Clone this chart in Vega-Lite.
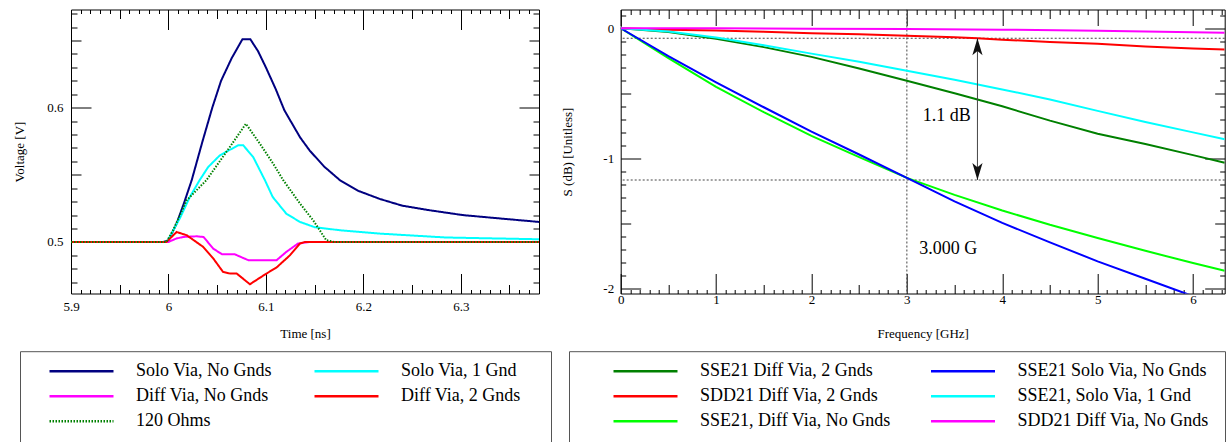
{
  "$schema": "https://vega.github.io/schema/vega-lite/v6.json",
  "background": "white",
  "padding": {"left": 12, "top": 8.5, "right": 0, "bottom": 0},
  "bounds": "flush",
  "spacing": 81.7,
  "resolve": {"scale": {"color": "independent", "strokeDash": "independent"}},
  "config": {
    "font": "Liberation Serif",
    "view": {"stroke": "#000", "strokeWidth": 1},
    "axis": {"domain": false, "grid": false, "labelFont": "Liberation Serif", "labelFontSize": 13, "labelColor": "#000", "titleFont": "Liberation Serif", "titleFontSize": 13, "titleFontWeight": "normal", "titleColor": "#000", "tickColor": "#000", "tickWidth": 1},
    "legend": {"labelFont": "Liberation Serif", "titleFont": "Liberation Serif"}
  },
  "hconcat": [
    {
      "width": 468,
      "height": 284,
      "resolve": {"axis": {"x": "independent", "y": "independent"}},
      "layer": [
        {
          "data": {"values": [
            {"trace": "Solo Via, No Gnds", "t": 5.9, "v": 0.5},
            {"trace": "Solo Via, No Gnds", "t": 5.995, "v": 0.5},
            {"trace": "Solo Via, No Gnds", "t": 6.0, "v": 0.501},
            {"trace": "Solo Via, No Gnds", "t": 6.0084, "v": 0.5137},
            {"trace": "Solo Via, No Gnds", "t": 6.016, "v": 0.529},
            {"trace": "Solo Via, No Gnds", "t": 6.0238, "v": 0.5458},
            {"trace": "Solo Via, No Gnds", "t": 6.035, "v": 0.575},
            {"trace": "Solo Via, No Gnds", "t": 6.045, "v": 0.6},
            {"trace": "Solo Via, No Gnds", "t": 6.054, "v": 0.62},
            {"trace": "Solo Via, No Gnds", "t": 6.065, "v": 0.637},
            {"trace": "Solo Via, No Gnds", "t": 6.076, "v": 0.651},
            {"trace": "Solo Via, No Gnds", "t": 6.084, "v": 0.651},
            {"trace": "Solo Via, No Gnds", "t": 6.092, "v": 0.642},
            {"trace": "Solo Via, No Gnds", "t": 6.1, "v": 0.63},
            {"trace": "Solo Via, No Gnds", "t": 6.11, "v": 0.614},
            {"trace": "Solo Via, No Gnds", "t": 6.119, "v": 0.598},
            {"trace": "Solo Via, No Gnds", "t": 6.127, "v": 0.588},
            {"trace": "Solo Via, No Gnds", "t": 6.135, "v": 0.578},
            {"trace": "Solo Via, No Gnds", "t": 6.145, "v": 0.568},
            {"trace": "Solo Via, No Gnds", "t": 6.16, "v": 0.556},
            {"trace": "Solo Via, No Gnds", "t": 6.176, "v": 0.546},
            {"trace": "Solo Via, No Gnds", "t": 6.195, "v": 0.538},
            {"trace": "Solo Via, No Gnds", "t": 6.217, "v": 0.532},
            {"trace": "Solo Via, No Gnds", "t": 6.24, "v": 0.527},
            {"trace": "Solo Via, No Gnds", "t": 6.268, "v": 0.5236},
            {"trace": "Solo Via, No Gnds", "t": 6.302, "v": 0.52},
            {"trace": "Solo Via, No Gnds", "t": 6.34, "v": 0.5175},
            {"trace": "Solo Via, No Gnds", "t": 6.3803, "v": 0.5149},
            {"trace": "Solo Via, 1 Gnd", "t": 5.9, "v": 0.5},
            {"trace": "Solo Via, 1 Gnd", "t": 5.998, "v": 0.5},
            {"trace": "Solo Via, 1 Gnd", "t": 6.0015, "v": 0.504},
            {"trace": "Solo Via, 1 Gnd", "t": 6.012, "v": 0.518},
            {"trace": "Solo Via, 1 Gnd", "t": 6.022, "v": 0.5335},
            {"trace": "Solo Via, 1 Gnd", "t": 6.032, "v": 0.546},
            {"trace": "Solo Via, 1 Gnd", "t": 6.0408, "v": 0.5558},
            {"trace": "Solo Via, 1 Gnd", "t": 6.0528, "v": 0.5645},
            {"trace": "Solo Via, 1 Gnd", "t": 6.0716, "v": 0.572},
            {"trace": "Solo Via, 1 Gnd", "t": 6.0767, "v": 0.572},
            {"trace": "Solo Via, 1 Gnd", "t": 6.087, "v": 0.5632},
            {"trace": "Solo Via, 1 Gnd", "t": 6.099, "v": 0.546},
            {"trace": "Solo Via, 1 Gnd", "t": 6.107, "v": 0.5335},
            {"trace": "Solo Via, 1 Gnd", "t": 6.121, "v": 0.521},
            {"trace": "Solo Via, 1 Gnd", "t": 6.135, "v": 0.5149},
            {"trace": "Solo Via, 1 Gnd", "t": 6.15, "v": 0.511},
            {"trace": "Solo Via, 1 Gnd", "t": 6.176, "v": 0.5087},
            {"trace": "Solo Via, 1 Gnd", "t": 6.217, "v": 0.5062},
            {"trace": "Solo Via, 1 Gnd", "t": 6.285, "v": 0.5033},
            {"trace": "Solo Via, 1 Gnd", "t": 6.3803, "v": 0.502},
            {"trace": "Diff Via, No Gnds", "t": 5.9, "v": 0.5},
            {"trace": "Diff Via, No Gnds", "t": 6.0, "v": 0.5},
            {"trace": "Diff Via, No Gnds", "t": 6.008, "v": 0.5025},
            {"trace": "Diff Via, No Gnds", "t": 6.015, "v": 0.5037},
            {"trace": "Diff Via, No Gnds", "t": 6.029, "v": 0.5042},
            {"trace": "Diff Via, No Gnds", "t": 6.036, "v": 0.5037},
            {"trace": "Diff Via, No Gnds", "t": 6.046, "v": 0.495},
            {"trace": "Diff Via, No Gnds", "t": 6.055, "v": 0.4908},
            {"trace": "Diff Via, No Gnds", "t": 6.068, "v": 0.4908},
            {"trace": "Diff Via, No Gnds", "t": 6.082, "v": 0.4864},
            {"trace": "Diff Via, No Gnds", "t": 6.111, "v": 0.4864},
            {"trace": "Diff Via, No Gnds", "t": 6.121, "v": 0.4926},
            {"trace": "Diff Via, No Gnds", "t": 6.133, "v": 0.4988},
            {"trace": "Diff Via, No Gnds", "t": 6.145, "v": 0.5},
            {"trace": "Diff Via, No Gnds", "t": 6.3803, "v": 0.5},
            {"trace": "Diff Via, 2 Gnds", "t": 5.9, "v": 0.5},
            {"trace": "Diff Via, 2 Gnds", "t": 5.998, "v": 0.5},
            {"trace": "Diff Via, 2 Gnds", "t": 6.0084, "v": 0.5074},
            {"trace": "Diff Via, 2 Gnds", "t": 6.0187, "v": 0.505},
            {"trace": "Diff Via, 2 Gnds", "t": 6.0357, "v": 0.4963},
            {"trace": "Diff Via, 2 Gnds", "t": 6.046, "v": 0.4877},
            {"trace": "Diff Via, 2 Gnds", "t": 6.056, "v": 0.4777},
            {"trace": "Diff Via, 2 Gnds", "t": 6.063, "v": 0.4765},
            {"trace": "Diff Via, 2 Gnds", "t": 6.07, "v": 0.4765},
            {"trace": "Diff Via, 2 Gnds", "t": 6.0836, "v": 0.4685},
            {"trace": "Diff Via, 2 Gnds", "t": 6.1007, "v": 0.4765},
            {"trace": "Diff Via, 2 Gnds", "t": 6.111, "v": 0.481},
            {"trace": "Diff Via, 2 Gnds", "t": 6.1246, "v": 0.49},
            {"trace": "Diff Via, 2 Gnds", "t": 6.1349, "v": 0.4988},
            {"trace": "Diff Via, 2 Gnds", "t": 6.14, "v": 0.5},
            {"trace": "Diff Via, 2 Gnds", "t": 6.3803, "v": 0.5},
            {"trace": "120 Ohms", "t": 5.9, "v": 0.5},
            {"trace": "120 Ohms", "t": 5.998, "v": 0.5},
            {"trace": "120 Ohms", "t": 6.005, "v": 0.509},
            {"trace": "120 Ohms", "t": 6.0187, "v": 0.531},
            {"trace": "120 Ohms", "t": 6.039, "v": 0.546},
            {"trace": "120 Ohms", "t": 6.063, "v": 0.5707},
            {"trace": "120 Ohms", "t": 6.0795, "v": 0.588},
            {"trace": "120 Ohms", "t": 6.094, "v": 0.573},
            {"trace": "120 Ohms", "t": 6.1075, "v": 0.5583},
            {"trace": "120 Ohms", "t": 6.1178, "v": 0.546},
            {"trace": "120 Ohms", "t": 6.135, "v": 0.5286},
            {"trace": "120 Ohms", "t": 6.1485, "v": 0.5161},
            {"trace": "120 Ohms", "t": 6.162, "v": 0.5013},
            {"trace": "120 Ohms", "t": 6.17, "v": 0.5},
            {"trace": "120 Ohms", "t": 6.3803, "v": 0.5}
          ]},
          "mark": {"type": "line", "strokeWidth": 2, "clip": true},
          "encoding": {
            "x": {"field": "t", "type": "quantitative", "scale": {"domain": [5.9, 6.3803], "nice": false, "zero": false},
              "axis": {"orient": "bottom", "title": "Time [ns]", "values": [5.9, 6, 6.1, 6.2, 6.3], "ticks": false, "labelPadding": 13, "labelBaseline": "middle", "labelFlush": false, "labelExpr": "toString(datum.value)", "titleX": 234, "titleY": 40, "titleBaseline": "middle"}},
            "y": {"field": "v", "type": "quantitative", "scale": {"domain": [0.4616, 0.6731], "nice": false, "zero": false},
              "axis": {"orient": "left", "title": "Voltage [V]", "values": [0.5, 0.6], "ticks": false, "labelPadding": 8, "labelExpr": "toString(datum.value)", "titleX": -52, "titleY": 142, "titleAngle": 270, "titleBaseline": "middle"}},
            "color": {"field": "trace", "type": "nominal",
              "scale": {"domain": ["Solo Via, No Gnds", "Diff Via, No Gnds", "120 Ohms", "Solo Via, 1 Gnd", "Diff Via, 2 Gnds"], "range": ["#000080", "#ff00ff", "#008000", "#00ffff", "#ff0000"]},
              "legend": {"orient": "none", "legendX": -51, "legendY": 341.7, "columns": 2, "symbolType": "stroke", "symbolSize": 4096, "clipHeight": 18, "symbolStrokeWidth": 2.5, "symbolOffset": 17, "labelOffset": 21, "labelFontSize": 18, "labelColor": "#000", "labelLimit": 400, "rowPadding": 7, "columnPadding": 24, "padding": 11, "strokeColor": "#555", "title": ["\u2014", "\u2014", "\u2014", "\u2014"], "titleOrient": "right", "titlePadding": 1, "titleFontSize": 18, "titleLineHeight": 19, "titleOpacity": 0}},
            "strokeDash": {"field": "trace", "type": "nominal",
              "scale": {"domain": ["Solo Via, No Gnds", "Diff Via, No Gnds", "120 Ohms", "Solo Via, 1 Gnd", "Diff Via, 2 Gnds"], "range": [[1, 0], [1, 0], [1.5, 1.5], [1, 0], [1, 0]]},
              "legend": {"orient": "none", "legendX": -51, "legendY": 341.7, "columns": 2, "symbolType": "stroke", "symbolSize": 4096, "clipHeight": 18, "symbolStrokeWidth": 2.5, "symbolOffset": 17, "labelOffset": 21, "labelFontSize": 18, "labelColor": "#000", "labelLimit": 400, "rowPadding": 7, "columnPadding": 24, "padding": 11, "strokeColor": "#555", "title": ["\u2014", "\u2014", "\u2014", "\u2014"], "titleOrient": "right", "titlePadding": 1, "titleFontSize": 18, "titleLineHeight": 19, "titleOpacity": 0}}
          }
        },
        {
          "data": {"values": [{"t": 6.0, "v": 0.5}]},
          "mark": {"type": "point", "opacity": 0},
          "encoding": {
            "x": {"field": "t", "type": "quantitative",
              "axis": {"orient": "bottom", "title": null, "labels": false, "values": [5.9, 5.91, 5.92, 5.93, 5.94, 5.95, 5.96, 5.97, 5.98, 5.99, 6.0, 6.01, 6.02, 6.03, 6.04, 6.05, 6.06, 6.07, 6.08, 6.09, 6.1, 6.11, 6.12, 6.13, 6.14, 6.15, 6.16, 6.17, 6.18, 6.19, 6.2, 6.21, 6.22, 6.23, 6.24, 6.25, 6.26, 6.27, 6.28, 6.29, 6.3, 6.31, 6.32, 6.33, 6.34, 6.35, 6.36, 6.37, 6.38],
                "tickSize": {"expr": "abs(round(datum.value*100))%10==0 ? -20 : (abs(round(datum.value*100))%5==0 ? -9 : -4)"}}},
            "y": {"field": "v", "type": "quantitative",
              "axis": {"orient": "left", "title": null, "labels": false, "values": [0.47, 0.48, 0.49, 0.5, 0.51, 0.52, 0.53, 0.54, 0.55, 0.56, 0.57, 0.58, 0.59, 0.6, 0.61, 0.62, 0.63, 0.64, 0.65, 0.66, 0.67],
                "tickSize": {"expr": "abs(round(datum.value*100))%10==0 ? -20 : (abs(round(datum.value*100))%5==0 ? -10 : -6)"}}}
          }
        },
        {
          "data": {"values": [{"t": 6.0, "v": 0.5}]},
          "mark": {"type": "point", "opacity": 0},
          "encoding": {
            "x": {"field": "t", "type": "quantitative",
              "axis": {"orient": "top", "title": null, "labels": false, "values": [5.9, 5.91, 5.92, 5.93, 5.94, 5.95, 5.96, 5.97, 5.98, 5.99, 6.0, 6.01, 6.02, 6.03, 6.04, 6.05, 6.06, 6.07, 6.08, 6.09, 6.1, 6.11, 6.12, 6.13, 6.14, 6.15, 6.16, 6.17, 6.18, 6.19, 6.2, 6.21, 6.22, 6.23, 6.24, 6.25, 6.26, 6.27, 6.28, 6.29, 6.3, 6.31, 6.32, 6.33, 6.34, 6.35, 6.36, 6.37, 6.38],
                "tickSize": {"expr": "abs(round(datum.value*100))%10==0 ? -20 : (abs(round(datum.value*100))%5==0 ? -9 : -4)"}}},
            "y": {"field": "v", "type": "quantitative",
              "axis": {"orient": "right", "title": null, "labels": false, "values": [0.47, 0.48, 0.49, 0.5, 0.51, 0.52, 0.53, 0.54, 0.55, 0.56, 0.57, 0.58, 0.59, 0.6, 0.61, 0.62, 0.63, 0.64, 0.65, 0.66, 0.67],
                "tickSize": {"expr": "abs(round(datum.value*100))%10==0 ? -20 : (abs(round(datum.value*100))%5==0 ? -10 : -6)"}}}
          }
        }
      ]
    },
    {
      "width": 604,
      "height": 284,
      "resolve": {"axis": {"x": "independent", "y": "independent"}},
      "layer": [
        {
          "data": {"values": [{"db": -0.077}, {"db": -1.166}]},
          "mark": {"type": "rule", "color": "#444", "strokeWidth": 1, "strokeDash": [2, 2]},
          "encoding": {"y": {"field": "db", "type": "quantitative", "axis": null}}
        },
        {
          "data": {"values": [{"f": 3}]},
          "mark": {"type": "rule", "color": "#444", "strokeWidth": 1, "strokeDash": [2, 2]},
          "encoding": {"x": {"field": "f", "type": "quantitative", "axis": null}}
        },
        {
          "data": {"values": [
            {"trace": "SSE21 Diff Via, 2 Gnds", "f": 0, "db": 0},
            {"trace": "SSE21 Diff Via, 2 Gnds", "f": 0.5, "db": -0.028},
            {"trace": "SSE21 Diff Via, 2 Gnds", "f": 1, "db": -0.08},
            {"trace": "SSE21 Diff Via, 2 Gnds", "f": 1.5, "db": -0.145},
            {"trace": "SSE21 Diff Via, 2 Gnds", "f": 2, "db": -0.22},
            {"trace": "SSE21 Diff Via, 2 Gnds", "f": 2.5, "db": -0.31},
            {"trace": "SSE21 Diff Via, 2 Gnds", "f": 3, "db": -0.403},
            {"trace": "SSE21 Diff Via, 2 Gnds", "f": 3.5, "db": -0.5},
            {"trace": "SSE21 Diff Via, 2 Gnds", "f": 4, "db": -0.6},
            {"trace": "SSE21 Diff Via, 2 Gnds", "f": 4.5, "db": -0.71},
            {"trace": "SSE21 Diff Via, 2 Gnds", "f": 5, "db": -0.81},
            {"trace": "SSE21 Diff Via, 2 Gnds", "f": 5.5, "db": -0.89},
            {"trace": "SSE21 Diff Via, 2 Gnds", "f": 6, "db": -0.975},
            {"trace": "SSE21 Diff Via, 2 Gnds", "f": 6.332, "db": -1.033},
            {"trace": "SDD21 Diff Via, 2 Gnds", "f": 0, "db": 0},
            {"trace": "SDD21 Diff Via, 2 Gnds", "f": 0.5, "db": -0.012},
            {"trace": "SDD21 Diff Via, 2 Gnds", "f": 1, "db": -0.018},
            {"trace": "SDD21 Diff Via, 2 Gnds", "f": 1.5, "db": -0.026},
            {"trace": "SDD21 Diff Via, 2 Gnds", "f": 2, "db": -0.038},
            {"trace": "SDD21 Diff Via, 2 Gnds", "f": 2.5, "db": -0.047},
            {"trace": "SDD21 Diff Via, 2 Gnds", "f": 3, "db": -0.057},
            {"trace": "SDD21 Diff Via, 2 Gnds", "f": 3.5, "db": -0.07},
            {"trace": "SDD21 Diff Via, 2 Gnds", "f": 3.74, "db": -0.077},
            {"trace": "SDD21 Diff Via, 2 Gnds", "f": 4, "db": -0.088},
            {"trace": "SDD21 Diff Via, 2 Gnds", "f": 4.5, "db": -0.105},
            {"trace": "SDD21 Diff Via, 2 Gnds", "f": 5, "db": -0.12},
            {"trace": "SDD21 Diff Via, 2 Gnds", "f": 5.5, "db": -0.14},
            {"trace": "SDD21 Diff Via, 2 Gnds", "f": 6, "db": -0.155},
            {"trace": "SDD21 Diff Via, 2 Gnds", "f": 6.332, "db": -0.164},
            {"trace": "SSE21, Diff Via, No Gnds", "f": 0, "db": 0},
            {"trace": "SSE21, Diff Via, No Gnds", "f": 0.5, "db": -0.23},
            {"trace": "SSE21, Diff Via, No Gnds", "f": 1, "db": -0.45},
            {"trace": "SSE21, Diff Via, No Gnds", "f": 1.5, "db": -0.645},
            {"trace": "SSE21, Diff Via, No Gnds", "f": 2, "db": -0.827},
            {"trace": "SSE21, Diff Via, No Gnds", "f": 2.5, "db": -0.99},
            {"trace": "SSE21, Diff Via, No Gnds", "f": 3, "db": -1.15},
            {"trace": "SSE21, Diff Via, No Gnds", "f": 3.5, "db": -1.28},
            {"trace": "SSE21, Diff Via, No Gnds", "f": 4, "db": -1.4},
            {"trace": "SSE21, Diff Via, No Gnds", "f": 4.5, "db": -1.51},
            {"trace": "SSE21, Diff Via, No Gnds", "f": 5, "db": -1.611},
            {"trace": "SSE21, Diff Via, No Gnds", "f": 5.5, "db": -1.71},
            {"trace": "SSE21, Diff Via, No Gnds", "f": 6, "db": -1.804},
            {"trace": "SSE21, Diff Via, No Gnds", "f": 6.332, "db": -1.863},
            {"trace": "SSE21 Solo Via, No Gnds", "f": 0, "db": 0},
            {"trace": "SSE21 Solo Via, No Gnds", "f": 0.5, "db": -0.215},
            {"trace": "SSE21 Solo Via, No Gnds", "f": 1, "db": -0.416},
            {"trace": "SSE21 Solo Via, No Gnds", "f": 1.5, "db": -0.607},
            {"trace": "SSE21 Solo Via, No Gnds", "f": 2, "db": -0.794},
            {"trace": "SSE21 Solo Via, No Gnds", "f": 2.5, "db": -0.97},
            {"trace": "SSE21 Solo Via, No Gnds", "f": 3, "db": -1.15},
            {"trace": "SSE21 Solo Via, No Gnds", "f": 3.5, "db": -1.33},
            {"trace": "SSE21 Solo Via, No Gnds", "f": 4, "db": -1.496},
            {"trace": "SSE21 Solo Via, No Gnds", "f": 4.5, "db": -1.645},
            {"trace": "SSE21 Solo Via, No Gnds", "f": 5, "db": -1.791},
            {"trace": "SSE21 Solo Via, No Gnds", "f": 5.5, "db": -1.925},
            {"trace": "SSE21 Solo Via, No Gnds", "f": 5.93, "db": -2.04},
            {"trace": "SSE21 Solo Via, No Gnds", "f": 6, "db": -2.06},
            {"trace": "SSE21, Solo Via, 1 Gnd", "f": 0, "db": 0},
            {"trace": "SSE21, Solo Via, 1 Gnd", "f": 0.5, "db": -0.025},
            {"trace": "SSE21, Solo Via, 1 Gnd", "f": 1, "db": -0.072},
            {"trace": "SSE21, Solo Via, 1 Gnd", "f": 1.5, "db": -0.13},
            {"trace": "SSE21, Solo Via, 1 Gnd", "f": 2, "db": -0.195},
            {"trace": "SSE21, Solo Via, 1 Gnd", "f": 2.5, "db": -0.257},
            {"trace": "SSE21, Solo Via, 1 Gnd", "f": 3, "db": -0.326},
            {"trace": "SSE21, Solo Via, 1 Gnd", "f": 3.5, "db": -0.395},
            {"trace": "SSE21, Solo Via, 1 Gnd", "f": 4, "db": -0.47},
            {"trace": "SSE21, Solo Via, 1 Gnd", "f": 4.5, "db": -0.548},
            {"trace": "SSE21, Solo Via, 1 Gnd", "f": 5, "db": -0.635},
            {"trace": "SSE21, Solo Via, 1 Gnd", "f": 5.5, "db": -0.72},
            {"trace": "SSE21, Solo Via, 1 Gnd", "f": 6, "db": -0.8},
            {"trace": "SSE21, Solo Via, 1 Gnd", "f": 6.332, "db": -0.853},
            {"trace": "SDD21 Diff Via, No Gnds", "f": 0, "db": 0},
            {"trace": "SDD21 Diff Via, No Gnds", "f": 1, "db": -0.001},
            {"trace": "SDD21 Diff Via, No Gnds", "f": 2, "db": -0.003},
            {"trace": "SDD21 Diff Via, No Gnds", "f": 3, "db": -0.006},
            {"trace": "SDD21 Diff Via, No Gnds", "f": 4, "db": -0.011},
            {"trace": "SDD21 Diff Via, No Gnds", "f": 5, "db": -0.019},
            {"trace": "SDD21 Diff Via, No Gnds", "f": 6, "db": -0.03},
            {"trace": "SDD21 Diff Via, No Gnds", "f": 6.332, "db": -0.034}
          ]},
          "mark": {"type": "line", "strokeWidth": 2, "clip": true},
          "encoding": {
            "x": {"field": "f", "type": "quantitative", "scale": {"domain": [0, 6.332], "nice": false, "zero": false},
              "axis": {"orient": "bottom", "title": "Frequency [GHz]", "values": [0, 1, 2, 3, 4, 5, 6], "ticks": false, "labelPadding": 5.5, "labelBaseline": "middle", "labelFlush": false, "labelExpr": "toString(datum.value)", "titleX": 302, "titleY": 40, "titleBaseline": "middle"}},
            "y": {"field": "db", "type": "quantitative", "scale": {"domain": [-2.038, 0.144], "nice": false, "zero": false},
              "axis": {"orient": "left", "title": "S (dB) [Unitless]", "values": [-2, -1, 0], "ticks": false, "labelPadding": 7, "labelExpr": "toString(datum.value)", "titleX": -53.5, "titleY": 142, "titleAngle": 270, "titleBaseline": "middle"}},
            "color": {"field": "trace", "type": "nominal",
              "scale": {"domain": ["SSE21 Diff Via, 2 Gnds", "SDD21 Diff Via, 2 Gnds", "SSE21, Diff Via, No Gnds", "SSE21 Solo Via, No Gnds", "SSE21, Solo Via, 1 Gnd", "SDD21 Diff Via, No Gnds"], "range": ["#008000", "#ff0000", "#00ff00", "#0000ff", "#00ffff", "#ff00ff"]},
              "legend": {"orient": "none", "legendX": -51.7, "legendY": 341.7, "columns": 2, "symbolType": "stroke", "symbolSize": 4096, "clipHeight": 18, "symbolStrokeWidth": 2.5, "symbolOffset": 32, "labelOffset": 21, "labelFontSize": 18, "labelColor": "#000", "labelLimit": 400, "rowPadding": 7, "columnPadding": 6.5, "padding": 11, "strokeColor": "#555", "title": [".", ".", ".", "."], "titleOrient": "right", "titlePadding": 0, "titleFontSize": 18, "titleLineHeight": 19, "titleOpacity": 0}}
          }
        },
        {
          "data": {"values": [{"f": 3.74, "db": -0.077, "db2": -1.166}]},
          "mark": {"type": "rule", "color": "#444", "strokeWidth": 1},
          "encoding": {
            "x": {"field": "f", "type": "quantitative", "axis": null},
            "y": {"field": "db", "type": "quantitative", "axis": null},
            "y2": {"field": "db2"}
          }
        },
        {
          "data": {"values": [{"f": 3.74, "db": -0.077}]},
          "mark": {"type": "point", "shape": "M0,0L0.6,2L0,1.5L-0.6,2Z", "filled": true, "size": 289, "color": "#111", "opacity": 1},
          "encoding": {
            "x": {"field": "f", "type": "quantitative", "axis": null},
            "y": {"field": "db", "type": "quantitative", "axis": null}
          }
        },
        {
          "data": {"values": [{"f": 3.74, "db": -1.166}]},
          "mark": {"type": "point", "shape": "M0,0L0.6,-2L0,-1.5L-0.6,-2Z", "filled": true, "size": 289, "color": "#111", "opacity": 1},
          "encoding": {
            "x": {"field": "f", "type": "quantitative", "axis": null},
            "y": {"field": "db", "type": "quantitative", "axis": null}
          }
        },
        {
          "data": {"values": [
            {"f": 3.417, "db": -0.673, "label": "1.1 dB"},
            {"f": 3.434, "db": -1.697, "label": "3.000 G"}
          ]},
          "mark": {"type": "text", "font": "Liberation Serif", "fontSize": 18, "color": "#000", "align": "center", "baseline": "middle"},
          "encoding": {
            "x": {"field": "f", "type": "quantitative", "axis": null},
            "y": {"field": "db", "type": "quantitative", "axis": null},
            "text": {"field": "label"}
          }
        },
        {
          "data": {"values": [{"f": 3, "db": -1}]},
          "mark": {"type": "point", "opacity": 0},
          "encoding": {
            "x": {"field": "f", "type": "quantitative",
              "axis": {"orient": "bottom", "title": null, "labels": false, "values": [0, 0.1, 0.2, 0.3, 0.4, 0.5, 0.6, 0.7, 0.8, 0.9, 1, 1.1, 1.2, 1.3, 1.4, 1.5, 1.6, 1.7, 1.8, 1.9, 2, 2.1, 2.2, 2.3, 2.4, 2.5, 2.6, 2.7, 2.8, 2.9, 3, 3.1, 3.2, 3.3, 3.4, 3.5, 3.6, 3.7, 3.8, 3.9, 4, 4.1, 4.2, 4.3, 4.4, 4.5, 4.6, 4.7, 4.8, 4.9, 5, 5.1, 5.2, 5.3, 5.4, 5.5, 5.6, 5.7, 5.8, 5.9, 6, 6.1, 6.2, 6.3],
                "tickSize": {"expr": "abs(round(datum.value*10))%10==0 ? -20 : (abs(round(datum.value*10))%5==0 ? -9 : -4)"}}},
            "y": {"field": "db", "type": "quantitative",
              "axis": {"orient": "left", "title": null, "labels": false, "values": [-2, -1.9, -1.8, -1.7, -1.6, -1.5, -1.4, -1.3, -1.2, -1.1, -1, -0.9, -0.8, -0.7, -0.6, -0.5, -0.4, -0.3, -0.2, -0.1, 0, 0.1],
                "tickSize": {"expr": "abs(round(datum.value*10))%10==0 ? -20 : (abs(round(datum.value*10))%5==0 ? -10 : -5)"}}}
          }
        },
        {
          "data": {"values": [{"f": 3, "db": -1}]},
          "mark": {"type": "point", "opacity": 0},
          "encoding": {
            "x": {"field": "f", "type": "quantitative",
              "axis": {"orient": "top", "title": null, "labels": false, "values": [0, 0.1, 0.2, 0.3, 0.4, 0.5, 0.6, 0.7, 0.8, 0.9, 1, 1.1, 1.2, 1.3, 1.4, 1.5, 1.6, 1.7, 1.8, 1.9, 2, 2.1, 2.2, 2.3, 2.4, 2.5, 2.6, 2.7, 2.8, 2.9, 3, 3.1, 3.2, 3.3, 3.4, 3.5, 3.6, 3.7, 3.8, 3.9, 4, 4.1, 4.2, 4.3, 4.4, 4.5, 4.6, 4.7, 4.8, 4.9, 5, 5.1, 5.2, 5.3, 5.4, 5.5, 5.6, 5.7, 5.8, 5.9, 6, 6.1, 6.2, 6.3],
                "tickSize": {"expr": "abs(round(datum.value*10))%10==0 ? -16 : (abs(round(datum.value*10))%5==0 ? -9 : -5)"}}},
            "y": {"field": "db", "type": "quantitative",
              "axis": {"orient": "right", "title": null, "labels": false, "values": [-2, -1.9, -1.8, -1.7, -1.6, -1.5, -1.4, -1.3, -1.2, -1.1, -1, -0.9, -0.8, -0.7, -0.6, -0.5, -0.4, -0.3, -0.2, -0.1, 0, 0.1],
                "tickSize": {"expr": "abs(round(datum.value*10))%10==0 ? -20 : (abs(round(datum.value*10))%5==0 ? -10 : -5)"}}}
          }
        }
      ]
    }
  ]
}
